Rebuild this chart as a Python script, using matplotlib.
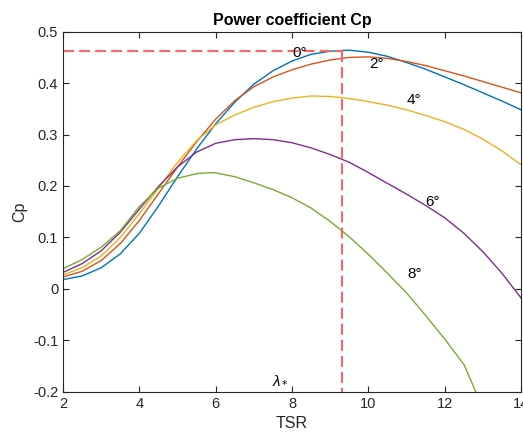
import matplotlib
matplotlib.use('Agg')
import matplotlib.pyplot as plt

plt.rcParams['font.family'] = ['Liberation Sans', 'DejaVu Sans']
plt.rcParams['mathtext.fontset'] = 'custom'
plt.rcParams['mathtext.it'] = 'Liberation Sans:italic'

# Значення TSR
tsr = [2, 2.5, 3, 3.5, 4, 4.5, 5, 5.5, 6, 6.5, 7, 7.5, 8, 8.5, 9, 9.5,
       10, 10.5, 11, 11.5, 12, 12.5, 13, 13.5, 14]

# Криві Cp для кутів 0, 2, 4, 6 градусів
cp_0 = [0.018, 0.025, 0.041, 0.068, 0.108, 0.161, 0.218, 0.272, 0.321, 0.363,
        0.398, 0.424, 0.443, 0.456, 0.462, 0.464, 0.460, 0.452, 0.440, 0.427,
        0.412, 0.397, 0.381, 0.365, 0.348]
cp_2 = [0.023, 0.034, 0.055, 0.088, 0.133, 0.185, 0.237, 0.286, 0.330, 0.366,
        0.393, 0.412, 0.426, 0.437, 0.445, 0.450, 0.451, 0.448, 0.442, 0.434,
        0.424, 0.414, 0.403, 0.392, 0.381]
cp_4 = [0.027, 0.041, 0.064, 0.100, 0.146, 0.196, 0.246, 0.288, 0.319, 0.338,
        0.353, 0.364, 0.371, 0.375, 0.374, 0.370, 0.364, 0.357, 0.348, 0.337,
        0.325, 0.310, 0.291, 0.268, 0.241]
cp_6 = [0.032, 0.049, 0.074, 0.110, 0.155, 0.199, 0.237, 0.266, 0.283, 0.290,
        0.292, 0.290, 0.284, 0.274, 0.261, 0.246, 0.226, 0.205, 0.184, 0.162,
        0.138, 0.108, 0.072, 0.030, -0.018]

# Крива для 8 градусів (обрізана знизу)
tsr_8 = [2, 2.5, 3, 3.5, 4, 4.5, 5, 5.5, 5.85, 6, 6.5, 7, 7.5, 8, 8.5, 9,
         9.5, 10, 10.5, 11, 11.5, 12, 12.5, 12.81]
cp_8 = [0.039, 0.057, 0.081, 0.113, 0.160, 0.196, 0.215, 0.224, 0.226, 0.2255,
        0.218, 0.206, 0.193, 0.177, 0.157, 0.131, 0.101, 0.067, 0.030, -0.008,
        -0.052, -0.098, -0.147, -0.200]

# Оптимальна точка
lam_opt = 9.3
cp_max = 0.463

labels = ['0°', '2°', '4°', '6°', '8°']
label_x = [8.21, 10.2, 11.2, 11.69, 11.2]
label_y = [0.458, 0.438, 0.368, 0.169, 0.029]
colors = ['#0072BD', '#D95319', '#EDB120', '#7E2F8E', '#77AC30']

fig = plt.figure(figsize=(5.23, 4.34), dpi=100)
ax = fig.add_axes([0.1205, 0.0975, 0.876, 0.8295])

series = [(tsr, cp_0), (tsr, cp_2), (tsr, cp_4), (tsr, cp_6), (tsr_8, cp_8)]
for (xs, ys), c in zip(series, colors):
    ax.plot(xs, ys, color=c, linewidth=1.0)

# Пунктирні лінії до максимуму
dash = (0, (5.3, 2.4))
ax.plot([2, lam_opt], [cp_max, cp_max], color='#ff6464', linestyle=dash, linewidth=1.5)
ax.plot([lam_opt, lam_opt], [cp_max, -0.2], color='#ff6464', linestyle=dash, linewidth=1.5)

for t, x, y in zip(labels, label_x, label_y):
    ax.text(x, y, t, ha='center', va='center', fontsize=11, color='black')

ax.text(7.69, -0.177, r'$\lambda_*$', ha='center', va='center', fontsize=11)

ax.set_xlim(2, 14)
ax.set_ylim(-0.2, 0.5)
ax.set_xticks([2, 4, 6, 8, 10, 12, 14])
ax.set_yticks([-0.2, -0.1, 0, 0.1, 0.2, 0.3, 0.4, 0.5])
ax.set_yticklabels(['-0.2', '-0.1', '0', '0.1', '0.2', '0.3', '0.4', '0.5'])
ax.tick_params(direction='in', top=True, right=True, length=4, width=0.8,
               labelsize=10.5, colors='#262626')
for s in ax.spines.values():
    s.set_color('#262626')
    s.set_linewidth(0.8)

ax.set_xlabel('TSR', fontsize=11.5, color='#262626')
ax.set_ylabel('Cp', fontsize=11.5, color='#262626')
ax.set_title('Power coefficient Cp', fontsize=11.5, fontweight='bold', pad=5)

plt.savefig('out.png', dpi=100)
